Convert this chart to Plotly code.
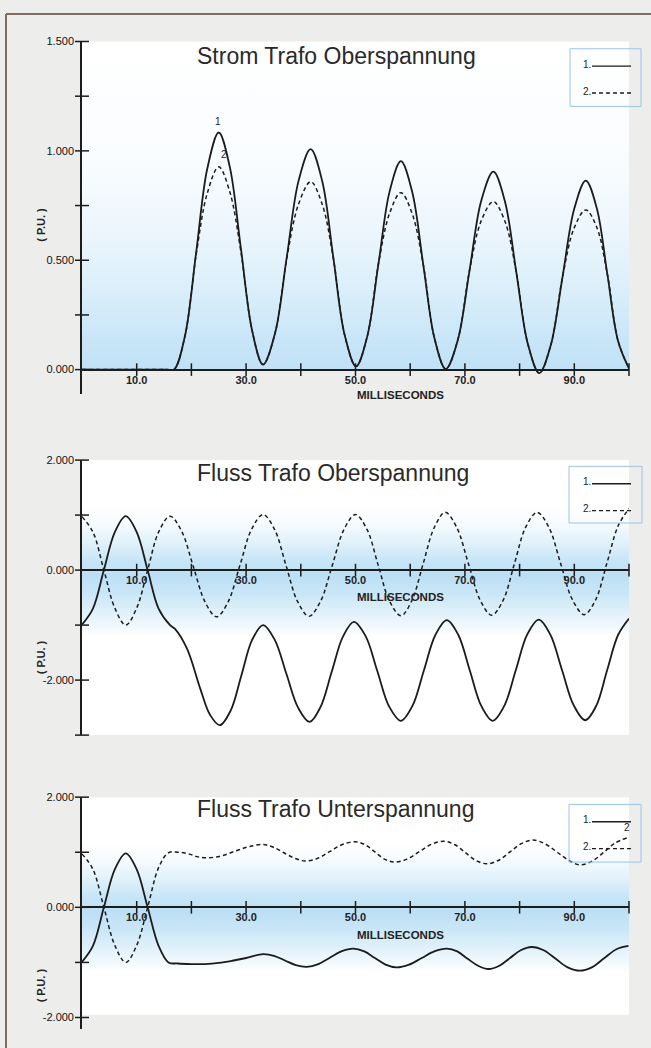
import plotly.graph_objects as go

W, H = 651, 1048

# ---------------- data ----------------
X_RANGE = [0, 100]
X_TICK_MARKS = [10, 20, 30, 40, 50, 60, 70, 80, 90, 100]
X_LABEL_VALS = [10, 30, 50, 70, 90]
X_LABEL_TEXT = ["10.0", "30.0", "50.0", "70.0", "90.0"]

# Panel 1: Strom Trafo Oberspannung
t1 = [0, 10, 15.5, 16.8, 18.8, 20.9, 22.9, 25.0, 27.0, 29.05, 31.1, 33.1, 35.3, 37.45, 39.6, 41.8,
      43.9, 45.95, 48.0, 50.1, 52.15, 54.2, 56.25, 58.3, 60.35, 62.4, 64.45, 66.5, 68.7, 70.85,
      73.0, 75.2, 77.3, 79.4, 81.5, 83.6, 85.7, 87.85, 90.0, 92.1, 94.1, 96.05, 98.0, 100]
i1 = [0, 0, 0, 0, 0.151, 0.542, 0.918, 1.084, 0.929, 0.554, 0.178, 0.023, 0.167, 0.516, 0.864, 1.008,
      0.863, 0.512, 0.160, 0.015, 0.152, 0.484, 0.816, 0.953, 0.814, 0.478, 0.142, 0.003, 0.135, 0.454,
      0.773, 0.905, 0.771, 0.445, 0.118, -0.016, 0.112, 0.424, 0.736, 0.864, 0.739, 0.435, 0.131, 0.005]
i2 = [0, 0, 0, 0, 0.151, 0.530, 0.806, 0.927, 0.814, 0.539, 0.178, 0.023, 0.167, 0.511, 0.757, 0.859,
      0.757, 0.508, 0.160, 0.015, 0.152, 0.484, 0.716, 0.809, 0.714, 0.478, 0.142, 0.003, 0.135, 0.454,
      0.681, 0.768, 0.679, 0.445, 0.118, -0.016, 0.112, 0.424, 0.649, 0.730, 0.651, 0.435, 0.131, 0.005]
Y1_RANGE = [-0.11, 1.5]
Y1_TICK_MARKS = [0, 0.25, 0.5, 0.75, 1.0, 1.25, 1.5]
Y1_LABEL_VALS = [0, 0.5, 1.0, 1.5]
Y1_LABEL_TEXT = ["0.000", "0.500", "1.000", "1.500"]

# Panel 2: Fluss Trafo Oberspannung
t2a = [0, 2, 4, 6, 8, 10, 12, 14, 16.1, 17.0, 19.2, 21.6, 23.4, 25.2, 27.2, 29.15, 31.1, 33.1,
       35.2, 37.35, 39.5, 41.6, 43.6, 45.65, 47.7, 49.7, 51.85, 54.0, 56.15, 58.3, 60.4, 62.5, 64.6,
       66.7, 68.8, 70.9, 73.0, 75.1, 77.2, 79.3, 81.4, 83.5, 85.6, 87.75, 89.9, 92.0, 94.0, 96.0, 98.0, 100]
f1 = [-0.99, -0.70, 0.0, 0.69, 0.98, 0.69, 0.0, -0.70, -1.0, -1.07, -1.43, -2.15, -2.63, -2.82, -2.55,
      -1.91, -1.27, -1.0, -1.26, -1.88, -2.50, -2.76, -2.49, -1.85, -1.21, -0.94, -1.20, -1.84, -2.48,
      -2.74, -2.47, -1.825, -1.18, -0.91, -1.18, -1.825, -2.47, -2.74, -2.47, -1.82, -1.17, -0.90,
      -1.17, -1.815, -2.46, -2.73, -2.47, -1.82, -1.18, -0.88]
t2b = [0, 2, 4, 6, 8, 10, 12, 14, 16.1, 18.2, 20.35, 22.5, 24.6, 26.7, 28.85, 31.0, 33.1, 35.2, 37.3,
       39.4, 41.5, 43.6, 45.75, 47.9, 50.0, 52.1, 54.15, 56.2, 58.3, 60.3, 62.35, 64.4, 66.4, 68.5,
       70.65, 72.8, 74.9, 77.0, 79.05, 81.1, 83.2, 85.35, 87.5, 89.65, 91.8, 93.9, 96.0, 98.0, 100]
f2 = [0.97, 0.69, 0.0, -0.69, -1.0, -0.69, 0.0, 0.69, 0.98, 0.71, 0.065, -0.58, -0.85, -0.58, 0.08,
      0.74, 1.01, 0.74, 0.085, -0.57, -0.84, -0.57, 0.085, 0.74, 1.01, 0.74, 0.09, -0.56, -0.83,
      -0.555, 0.11, 0.775, 1.05, 0.777, 0.115, -0.547, -0.82, -0.547, 0.115, 0.777, 1.05, 0.778,
      0.12, -0.538, -0.81, -0.54, 0.14, 0.80, 1.12]
Y2_RANGE = [-3, 2]
Y2_TICK_MARKS = [-3, -2, -1, 0, 1, 2]
Y2_LABEL_VALS = [-2, 0, 2]
Y2_LABEL_TEXT = ["-2.000", "0.000", "2.000"]

# Panel 3: Fluss Trafo Unterspannung
t3a = [0, 2, 4, 6, 8, 10, 12, 14, 15.8, 17.5, 20, 22.5, 25, 27.5, 30, 33.1, 35.1, 37.1, 39.1, 41.1,
       43.2, 45.3, 47.4, 49.6, 51.6, 53.55, 55.5, 57.5, 59.8, 62.1, 64.4, 66.7, 68.6, 70.5, 72.4,
       74.3, 76.3, 78.25, 80.2, 82.2, 84.4, 86.6, 88.8, 91.0, 93.2, 95.45, 97.7, 99.9]
g1 = [-0.99, -0.70, 0.0, 0.69, 0.98, 0.69, 0.0, -0.70, -1.0, -1.02, -1.03, -1.03, -1.01, -0.97, -0.92,
      -0.85, -0.88, -0.965, -1.05, -1.08, -1.03, -0.915, -0.80, -0.75, -0.80, -0.92, -1.04, -1.09,
      -1.04, -0.92, -0.80, -0.75, -0.80, -0.935, -1.06, -1.12, -1.06, -0.92, -0.78, -0.72, -0.78,
      -0.935, -1.09, -1.15, -1.09, -0.925, -0.76, -0.70]
t3b = [0, 2, 4, 6, 8, 10, 12, 14, 15.8, 17.5, 19.5, 21.0, 22.8, 25.4, 28.0, 30.5, 33.1, 35.0, 36.9,
       38.9, 40.8, 43.1, 45.35, 47.6, 49.9, 51.7, 53.55, 55.4, 57.2, 59.4, 61.65, 63.9, 66.1, 68.1,
       70.05, 72.0, 74.0, 76.1, 78.25, 80.4, 82.5, 84.7, 86.95, 89.2, 91.1, 93.3, 95.4, 97.5, 99.6]
g2 = [0.97, 0.69, 0.0, -0.69, -1.0, -0.69, 0.0, 0.72, 0.99, 1.0, 0.97, 0.92, 0.90, 0.93, 1.02, 1.10,
      1.14, 1.09, 0.99, 0.89, 0.84, 0.89, 1.015, 1.14, 1.19, 1.14, 1.005, 0.87, 0.82, 0.875, 1.01,
      1.145, 1.20, 1.14, 0.995, 0.85, 0.79, 0.85, 1.005, 1.16, 1.22, 1.15, 0.995, 0.84, 0.77, 0.84,
      1.0, 1.17, 1.26]
Y3_RANGE = [-2.2, 2]
Y3_TICK_MARKS = [-2, -1, 0, 1, 2]
Y3_LABEL_VALS = [-2, 0, 2]
Y3_LABEL_TEXT = ["-2.000", "0.000", "2.000"]

TITLES = ["Strom Trafo Oberspannung", "Fluss Trafo Oberspannung", "Fluss Trafo Unterspannung"]

# ---------------- style / layout helpers ----------------
INK = "#1c1c1c"
FONT = "Liberation Sans, Arial, sans-serif"
BLUE = "#bcdff5"


def px(p):
    return p / W


def py(p):
    return 1 - p / H


XD = [px(82), px(629)]
panels = [
    dict(xa="x", ya="y", yr=Y1_RANGE, ydom=[py(389.9), py(35.7)], title_y=50,
         pu_y=220, ms_y=391, leg=(570, 641, 43, 101)),
    dict(xa="x2", ya="y2", yr=Y2_RANGE, ydom=[py(733.3), py(456.7)], title_y=470,
         pu_y=655, ms_y=594, leg=(569, 642, 463, 520)),
    dict(xa="x3", ya="y3", yr=Y3_RANGE, ydom=[py(1028.4), py(795.7)], title_y=808,
         pu_y=985, ms_y=934.5, leg=(569, 641, 803, 861)),
]

fig = go.Figure()

# background (white plot region with blue gradient)
bg_specs = [
    (0, 1.52, [[0, "#bfe1f6"], [0.1, "#c9e6f8"], [0.25, "#dbeffa"], [0.42, "#ecf6fc"],
               [0.62, "#f9fcfe"], [1, "#ffffff"]]),
    (-3, 2, [[0, "#ffffff"], [0.36, "#ffffff"], [0.44, "#e3f2fb"], [0.52, "#c9e6f7"],
             [0.58, BLUE], [0.64, "#c9e6f7"], [0.70, "#e0f1fb"], [0.78, "#f8fcfe"],
             [0.84, "#ffffff"], [1, "#ffffff"]]),
    (-1.95, 2.0, [[0, "#ffffff"], [0.2, "#ffffff"], [0.3, "#e3f2fb"], [0.4, "#c9e6f7"],
                  [0.475, BLUE], [0.55, "#c9e6f7"], [0.625, "#e0f1fb"], [0.725, "#f8fcfe"],
                  [0.8, "#ffffff"], [1, "#ffffff"]]),
]
for p, (y0, y1, cs) in zip(panels, bg_specs):
    fig.add_trace(go.Scatter(
        x=[X_RANGE[0], X_RANGE[1], X_RANGE[1], X_RANGE[0], X_RANGE[0]],
        y=[y0, y0, y1, y1, y0], xaxis=p["xa"], yaxis=p["ya"], mode="lines",
        line=dict(width=0), fill="toself", fillcolor="white",
        fillgradient=dict(type="vertical", colorscale=cs, start=y0, stop=y1),
        hoverinfo="skip", showlegend=False))

series = [
    (t1, i1, t1, i2),
    (t2a, f1, t2b, f2),
    (t3a, g1, t3b, g2),
]
y_ticks = [Y1_TICK_MARKS, Y2_TICK_MARKS, Y3_TICK_MARKS]
y_labels = [(Y1_LABEL_VALS, Y1_LABEL_TEXT), (Y2_LABEL_VALS, Y2_LABEL_TEXT),
            (Y3_LABEL_VALS, Y3_LABEL_TEXT)]

for k, p in enumerate(panels):
    ts, vs, td, vd = series[k]
    fig.add_trace(go.Scatter(x=td, y=vd, xaxis=p["xa"], yaxis=p["ya"], mode="lines",
                             line=dict(color=INK, width=1.5, dash="4px,3px", shape="spline",
                                       smoothing=1.0),
                             showlegend=False, hoverinfo="skip"))
    fig.add_trace(go.Scatter(x=ts, y=vs, xaxis=p["xa"], yaxis=p["ya"], mode="lines",
                             line=dict(color=INK, width=1.8, shape="spline", smoothing=1.0),
                             showlegend=False, hoverinfo="skip"))
    # crossing tick marks on the x axis
    fig.add_trace(go.Scatter(x=X_TICK_MARKS, y=[0] * len(X_TICK_MARKS), xaxis=p["xa"],
                             yaxis=p["ya"], mode="markers", cliponaxis=False,
                             marker=dict(symbol="line-ns", size=9,
                                         line=dict(color=INK, width=1.5)),
                             showlegend=False, hoverinfo="skip"))
    # crossing tick marks on the y axis
    fig.add_trace(go.Scatter(x=[X_RANGE[0]] * len(y_ticks[k]), y=y_ticks[k], xaxis=p["xa"],
                             yaxis=p["ya"], mode="markers", cliponaxis=False,
                             marker=dict(symbol="line-ew", size=10,
                                         line=dict(color=INK, width=1.5)),
                             showlegend=False, hoverinfo="skip"))

layout = dict(width=W, height=H, margin=dict(l=0, r=0, t=0, b=0),
              paper_bgcolor="#ededec", plot_bgcolor="rgba(0,0,0,0)", showlegend=False)

annotations = []
shapes = []
for k, p in enumerate(panels):
    sfx = "" if k == 0 else str(k + 1)
    d0, d1 = p["ydom"]
    r0, r1 = p["yr"]
    zero_pos = d0 + (0 - r0) / (r1 - r0) * (d1 - d0)
    layout["xaxis" + sfx] = dict(
        domain=XD, range=X_RANGE, anchor="free", position=zero_pos,
        showline=True, linecolor=INK, linewidth=1.6, showgrid=False, zeroline=False,
        tickvals=X_LABEL_VALS, ticktext=X_LABEL_TEXT, ticks="",
        tickfont=dict(family=FONT, size=11, color="#222", weight="bold"))
    layout["yaxis" + sfx] = dict(
        domain=p["ydom"], range=p["yr"], anchor="x" + ("" if k == 0 else str(k + 1)),
        showline=True, linecolor=INK, linewidth=1.6, showgrid=False, zeroline=False,
        tickvals=y_labels[k][0], ticktext=y_labels[k][1], ticks="outside", ticklen=4,
        tickcolor="rgba(0,0,0,0)",
        tickfont=dict(family=FONT, size=11, color="#111"))

    # title
    annotations.append(dict(text=TITLES[k], xref="paper", yref="paper", x=px(195),
                            y=py(p["title_y"]), xanchor="left", yanchor="middle",
                            showarrow=False,
                            font=dict(family=FONT, size=23, color="#2a2a2a")))
    # y axis title
    annotations.append(dict(text="( P.U. )", xref="paper", yref="paper", x=px(41),
                            y=py(p["pu_y"]), xanchor="center", yanchor="middle",
                            textangle=-90, showarrow=False,
                            font=dict(family=FONT, size=11, color="#222", weight="bold")))
    # x axis title
    annotations.append(dict(text="MILLISECONDS", xref="paper", yref="paper", x=px(355),
                            y=py(p["ms_y"]), xanchor="left", yanchor="middle",
                            showarrow=False,
                            font=dict(family=FONT, size=11.5, color="#222", weight="bold")))
    # legend box
    lx0, lx1, ly0, ly1 = p["leg"]
    shapes.append(dict(type="rect", xref="paper", yref="paper", x0=px(lx0), x1=px(lx1),
                       y0=py(ly1), y1=py(ly0), line=dict(color="#9cc4e8", width=1),
                       fillcolor="rgba(0,0,0,0)", layer="above"))
    r1y = ly0 + 17.5
    r2y = ly0 + 44.5
    annotations.append(dict(text="1.", xref="paper", yref="paper", x=px(587), y=py(r1y - 2),
                            xanchor="center", yanchor="middle", showarrow=False,
                            font=dict(family=FONT, size=10, color="#222")))
    annotations.append(dict(text="2.", xref="paper", yref="paper", x=px(587), y=py(r2y - 2),
                            xanchor="center", yanchor="middle", showarrow=False,
                            font=dict(family=FONT, size=10, color="#222")))
    shapes.append(dict(type="line", xref="paper", yref="paper", x0=px(592), x1=px(631),
                       y0=py(r1y), y1=py(r1y), line=dict(color=INK, width=1.4)))
    shapes.append(dict(type="line", xref="paper", yref="paper", x0=px(592), x1=px(631),
                       y0=py(r2y), y1=py(r2y), line=dict(color=INK, width=1.3, dash="4px,3px")))

# curve labels
annotations += [
    dict(text="1", xref="x", yref="y", x=24.9, y=1.135, showarrow=False,
         font=dict(family=FONT, size=10, color="#222")),
    dict(text="2", xref="x", yref="y", x=25.9, y=0.985, showarrow=False,
         font=dict(family=FONT, size=10, color="#222")),
    dict(text="2", xref="x2", yref="y2", x=100.5, y=1.17, showarrow=False,
         font=dict(family=FONT, size=10, color="#222")),
    dict(text="2", xref="x3", yref="y3", x=99.7, y=1.44, showarrow=False,
         font=dict(family=FONT, size=10, color="#222")),
]

# page frame (scanned page edges)
shapes += [
    dict(type="line", xref="paper", yref="paper", x0=px(6), x1=1, y0=py(8), y1=py(8),
         line=dict(color="#7d6c62", width=2)),
    dict(type="line", xref="paper", yref="paper", x0=px(6), x1=px(6), y0=py(8), y1=0,
         line=dict(color="#7d6c62", width=2)),
]

layout["annotations"] = annotations
layout["shapes"] = shapes
fig.update_layout(**layout)

fig.write_html("out.html", config={"displayModeBar": False},
               post_script="document.body.style.margin='0';document.body.style.background='#f4f4f3';")
